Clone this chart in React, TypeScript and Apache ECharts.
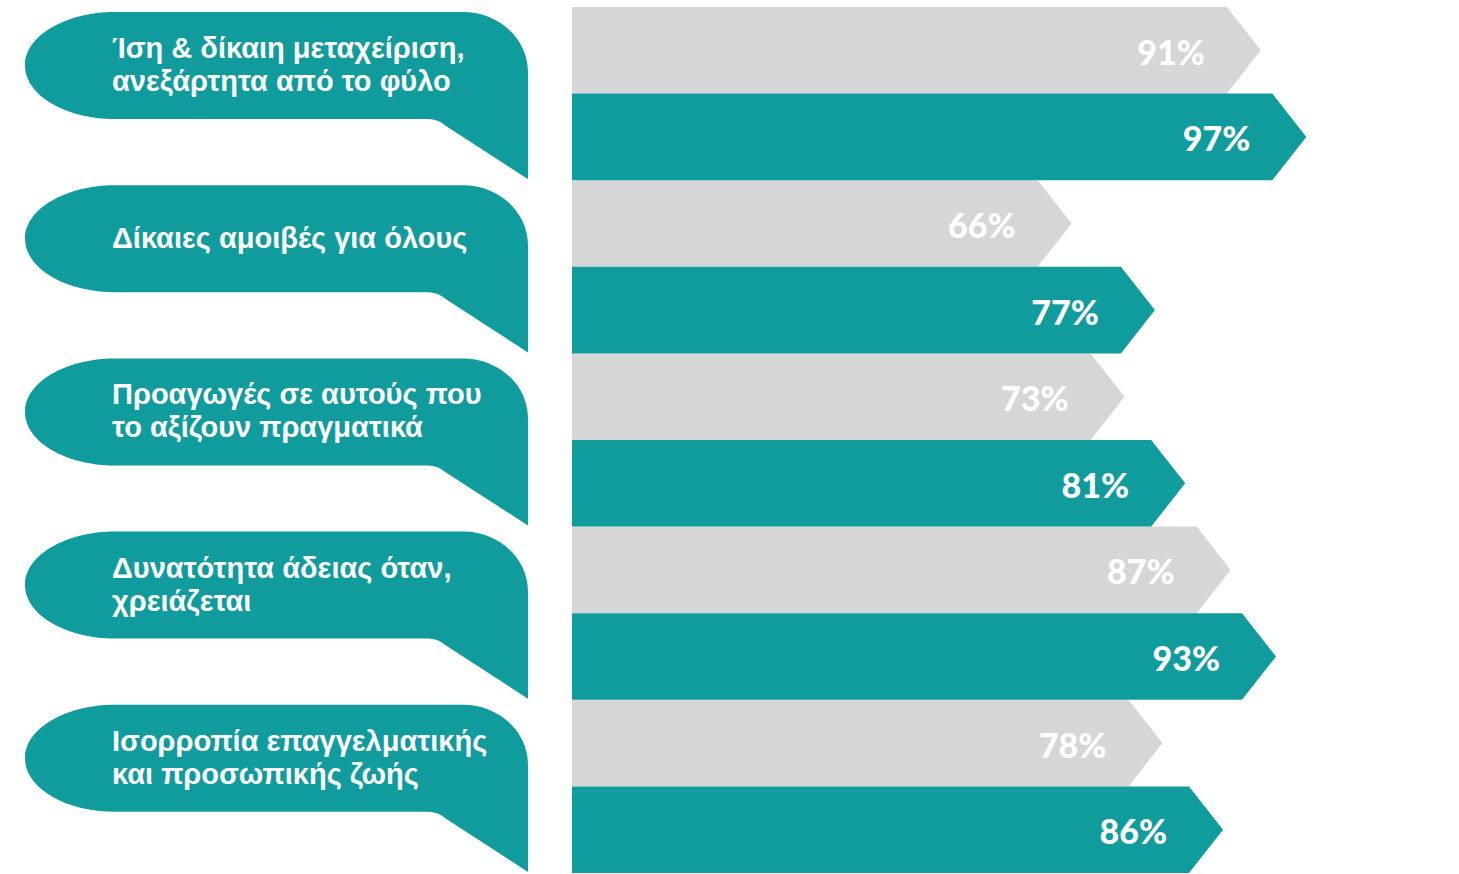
import React, { useEffect, useRef } from "react";
import * as echarts from "echarts";

const topics = [
  "Ίση & δίκαιη μεταχείριση,\nανεξάρτητα από το φύλο",
  "Δίκαιες αμοιβές για όλους",
  "Προαγωγές σε αυτούς που\nτο αξίζουν πραγματικά",
  "Δυνατότητα άδειας όταν,\nχρειάζεται",
  "Ισορροπία επαγγελματικής\nκαι προσωπικής ζωής",
];
const greyValues = [91, 66, 73, 87, 78];
const tealValues = [97, 77, 81, 93, 86];

const TEAL = "#109c9d";
const GREY = "#d6d6d8";

function arrowRender(half: number, color: string) {
  return (params: any, api: any) => {
    const idx = api.value(0);
    const v = api.value(1);
    const c0 = api.coord([0, idx]);
    const c1 = api.coord([v, idx]);
    const band = api.size([0, 1])[1];
    const h = band / 2;
    const top = c0[1] - band / 2 + half * h;
    const bottom = top + h;
    const mid = top + h / 2;
    const tip = 34;
    const x0 = c0[0];
    const xe = c1[0];
    return {
      type: "group",
      children: [
        {
          type: "polygon",
          shape: {
            points: [
              [x0, top],
              [xe - tip, top],
              [xe, mid],
              [xe - tip, bottom],
              [x0, bottom],
            ],
          },
          style: { fill: color },
        },
        {
          type: "text",
          style: {
            text: v + "%",
            x: xe - 56,
            y: mid + 1,
            align: "right",
            verticalAlign: "middle",
            fill: "#ffffff",
            font: '900 34px Lato, "Open Sans", sans-serif',
          },
        },
      ],
    };
  };
}

function bubbleRender(params: any, api: any) {
  const idx = api.value(0);
  const c = api.coord([0, idx]);
  const band = api.size([0, 1])[1];
  const cs = params.coordSys;
  const L = cs.x;
  const R = cs.x + cs.width;
  const T = c[1] - band / 2;
  const y0 = T + 5;
  const y1 = T + 112;
  const y2 = T + band - 1;
  const ym = (y0 + y1) / 2;
  const rx = 90;
  const ry = (y1 - y0) / 2;
  const k = 0.5523;
  const cx = 65;
  const cy = 60;
  const d = [
    `M ${L + rx} ${y0}`,
    `L ${R - cx} ${y0}`,
    `C ${R - cx + k * cx} ${y0} ${R} ${y0 + cy - k * cy} ${R} ${y0 + cy}`,
    `L ${R} ${y2}`,
    `L ${R - 82} ${y1 + 7}`,
    `Q ${R - 90} ${y1} ${R - 100} ${y1}`,
    `L ${L + rx} ${y1}`,
    `C ${L + rx - k * rx} ${y1} ${L} ${ym + k * ry} ${L} ${ym}`,
    `C ${L} ${ym - k * ry} ${L + rx - k * rx} ${y0} ${L + rx} ${y0}`,
    "Z",
  ].join(" ");
  return {
    type: "group",
    children: [
      { type: "path", shape: { pathData: d }, style: { fill: TEAL } },
      {
        type: "text",
        style: {
          text: topics[idx],
          x: L + 87,
          y: ym - 1,
          align: "left",
          verticalAlign: "middle",
          fill: "#ffffff",
          font: 'bold 29px "Liberation Sans", Arial, sans-serif',
          lineHeight: 33,
        },
      },
    ],
  };
}

export default function App() {
  const ref = useRef<HTMLDivElement>(null);
  useEffect(() => {
    if (!ref.current) return;
    const chart = echarts.init(ref.current, null, { renderer: "svg" });
    chart.setOption({
      animation: false,
      backgroundColor: "#ffffff",
      grid: [
        { left: 572, right: 130, top: 7, bottom: 1 },
        { left: 25, right: 931, top: 7, bottom: 1 },
      ],
      xAxis: [
        { type: "value", min: 0, max: 100, show: false, gridIndex: 0 },
        { type: "value", min: 0, max: 1, show: false, gridIndex: 1 },
      ],
      yAxis: [
        { type: "category", data: topics, inverse: true, show: false, gridIndex: 0 },
        { type: "category", data: topics, inverse: true, show: false, gridIndex: 1 },
      ],
      series: [
        {
          type: "custom",
          name: "grey",
          xAxisIndex: 0,
          yAxisIndex: 0,
          renderItem: arrowRender(0, GREY),
          encode: { x: 1, y: 0 },
          data: greyValues.map((v, i) => [i, v]),
        },
        {
          type: "custom",
          name: "teal",
          xAxisIndex: 0,
          yAxisIndex: 0,
          renderItem: arrowRender(1, TEAL),
          encode: { x: 1, y: 0 },
          data: tealValues.map((v, i) => [i, v]),
        },
        {
          type: "custom",
          name: "topics",
          xAxisIndex: 1,
          yAxisIndex: 1,
          renderItem: bubbleRender,
          encode: { x: 1, y: 0 },
          data: topics.map((_, i) => [i, 0]),
        },
      ],
    });
    return () => chart.dispose();
  }, []);
  return (
    <div
      ref={ref}
      style={{ position: "fixed", left: 0, top: 0, width: 1459, height: 874 }}
    />
  );
}
